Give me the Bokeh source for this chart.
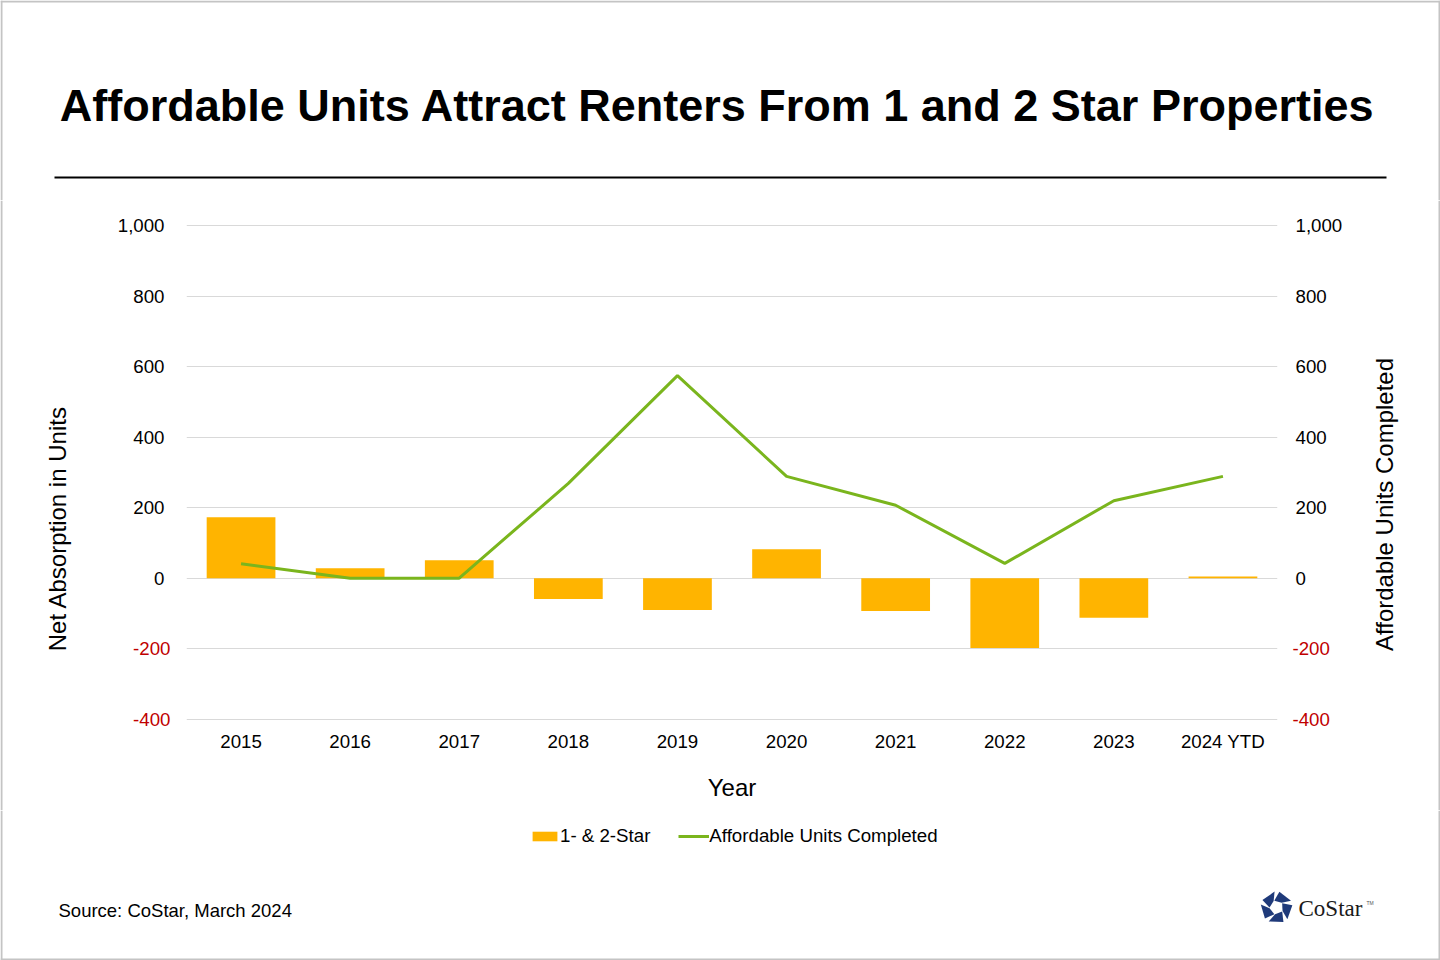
import math
from bokeh.plotting import figure
from bokeh.layouts import column, row
from bokeh.models import (ColumnDataSource, FactorRange, Range1d, LinearAxis, Label,
                          BoxAnnotation, PolyAnnotation, Legend, LegendItem, FixedTicker)
from bokeh.embed import file_html
from bokeh.resources import INLINE

# data
years = ['2015', '2016', '2017', '2018', '2019', '2020', '2021', '2022', '2023', '2024 YTD']
star_1_2 = [173, 28, 51, -59, -90, 82, -93, -198, -112, 5]
affordable_done = [41, 0, 0, 269, 575, 289, 207, 42, 220, 289]
y_ticks = [-400, -200, 0, 200, 400, 600, 800, 1000]

W = 1440
H_HEAD, H_CHART, H_FOOT = 200, 610, 150
W_LEFT, W_RIGHT = 100, W - 1345
W_CHART = W - W_LEFT - W_RIGHT
FONT = "Liberation Sans"
TICK = "18.7px"
TITLE_AX = "24px"
BAR = "#FFB400"
LINE = "#7AB51D"
RED = "#C00000"
EDGE = "#c4c4c4"


def box(f, left, right, top, bottom, color):
    f.add_layout(BoxAnnotation(left=left, right=right, top=top, bottom=bottom,
                               left_units="screen", right_units="screen",
                               top_units="screen", bottom_units="screen",
                               fill_color=color, fill_alpha=1, line_color=None))


def blank_fig(w, h, edges=""):
    f = figure(width=w, height=h, x_range=Range1d(0, w), y_range=Range1d(0, h),
               toolbar_location=None, output_backend="svg",
               x_axis_location=None, y_axis_location=None, frame_align=False,
               min_border=0, min_border_left=0, min_border_right=0,
               min_border_top=0, min_border_bottom=0)
    f.grid.visible = False
    f.outline_line_color = None
    # thin grey frame round the whole picture
    if "l" in edges:
        box(f, 0, 2, h, 0, EDGE)
    if "r" in edges:
        box(f, w - 2, w, h, 0, EDGE)
    if "t" in edges:
        box(f, 0, w, h, h - 2, EDGE)
    if "b" in edges:
        box(f, 0, w, 2, 0, EDGE)
    return f


def txt(f, x, y, s, size, bold=False, align="center", angle=0, font=FONT, color="black"):
    f.add_layout(Label(x=x, y=y, x_units="screen", y_units="screen", text=s,
                       text_font=font, text_font_size=size, text_color=color,
                       text_font_style="bold" if bold else "normal",
                       text_align=align, text_baseline="middle", angle=angle))


# ---- header: title and rule
head = blank_fig(W, H_HEAD, "lrt")
txt(head, 717, 95, "Affordable Units Attract Renters From 1 and 2 Star Properties", "45px", bold=True)
box(head, 54, 1386, 24, 22, "black")

# ---- side titles
left_fig = blank_fig(W_LEFT, H_CHART, "l")
txt(left_fig, 57, 282, "Net Absorption in Units", TITLE_AX, angle=math.pi / 2)
right_fig = blank_fig(W_RIGHT, H_CHART, "r")
txt(right_fig, 39, 306, "Affordable Units Completed", TITLE_AX, angle=math.pi / 2)

# ---- chart
source = ColumnDataSource(data=dict(year=years, net=star_1_2, done=affordable_done))

p = figure(width=W_CHART, height=H_CHART, x_range=FactorRange(*years), y_range=Range1d(-404, 1004),
           toolbar_location=None, output_backend="svg", y_axis_location=None, frame_align=False,
           min_border_left=186 - W_LEFT, min_border_right=1345 - 1277,
           min_border_top=24, min_border_bottom=90)
p.outline_line_color = None
p.x_range.range_padding = 0
p.x_range.factor_padding = 0
p.extra_y_ranges['done'] = Range1d(-404, 1004)

p.xaxis.axis_line_color = None
p.xaxis.major_tick_line_color = None
p.xaxis.major_tick_out = 0
p.xaxis.major_label_text_font = FONT
p.xaxis.major_label_text_font_size = TICK
p.xaxis.major_label_text_color = "black"
p.xaxis.major_label_standoff = 10
p.xaxis.axis_label = "Year"
p.xaxis.axis_label_text_font = FONT
p.xaxis.axis_label_text_font_size = TITLE_AX
p.xaxis.axis_label_text_font_style = "normal"
p.xaxis.axis_label_text_color = "black"
p.xaxis.axis_label_standoff = 19

p.xgrid.grid_line_color = None
p.ygrid.ticker = FixedTicker(ticks=y_ticks)
p.ygrid.grid_line_color = "#d9d9d9"


def make_axis(range_name, color, overrides, standoff):
    ax = LinearAxis(y_range_name=range_name, ticker=FixedTicker(ticks=y_ticks))
    ax.axis_line_color = None
    ax.major_tick_line_color = None
    ax.minor_tick_line_color = None
    ax.major_tick_out = 0
    ax.minor_tick_out = 0
    ax.major_label_text_font = FONT
    ax.major_label_text_font_size = TICK
    ax.major_label_text_color = color
    ax.major_label_overrides = overrides
    ax.major_label_standoff = standoff
    return ax


neg_only = {t: ("" if t >= 0 else f"{t:,}") for t in y_ticks}
pos_only = {t: ("" if t < 0 else f"{t:,}") for t in y_ticks}

# inner axes carry the red negative labels, outer axes the black ones
p.add_layout(make_axis("default", RED, neg_only, 16), "left")
p.add_layout(make_axis("default", "black", pos_only, -34), "left")
p.add_layout(make_axis("done", RED, neg_only, 15), "right")
p.add_layout(make_axis("done", "black", pos_only, -37), "right")

p.vbar(x='year', top='net', bottom=0, width=0.63, source=source,
       fill_color=BAR, line_color=None)
p.line(x='year', y='done', source=source, y_range_name='done',
       line_color=LINE, line_width=3)

# ---- footer: legend, source and logo
foot = blank_fig(W, H_FOOT, "lrb")
# hidden key renderers styled like the chart's bars and line
key_src = ColumnDataSource(data=dict(x=[0], y=[0]))
key_bar = foot.vbar(x='x', top='y', width=1, source=key_src, fill_color=BAR, line_color=None, visible=False)
key_line = foot.line(x='x', y='y', source=key_src, line_color=LINE, line_width=3, visible=False)
legend = Legend(items=[LegendItem(label="1- & 2-Star", renderers=[key_bar]),
                       LegendItem(label="Affordable Units Completed", renderers=[key_line])],
                location=(529, 113), orientation="horizontal")
legend.background_fill_alpha = 0
legend.border_line_alpha = 0
legend.inactive_fill_alpha = 0
legend.label_text_font = FONT
legend.label_text_font_size = TICK
legend.label_text_color = "black"
legend.glyph_width = 31
legend.glyph_height = 12
legend.label_standoff = 0
legend.spacing = 28
legend.padding = 0
legend.margin = 0
foot.add_layout(legend)

txt(foot, 58, 50, "Source: CoStar, March 2024", "18.5px", align="left")
txt(foot, 1298, 52, "CoStar", "23px", align="left", font="Liberation Serif", color="#1a1a1a")
txt(foot, 1366, 58, "TM", "5px", align="left", color="#555555")
cx, cy, r_out, r_in = 1276, 53, 16, 7
for k in range(5):
    a0 = math.pi / 2 + k * 2 * math.pi / 5 + 0.12
    a1 = a0 + 2 * math.pi / 5 - 0.30
    xs = [cx + r_out * math.cos(a0), cx + r_out * math.cos(a1),
          cx + r_in * math.cos(a1 + 0.5), cx + r_in * math.cos(a0 + 0.3)]
    ys = [cy + r_out * math.sin(a0), cy + r_out * math.sin(a1),
          cy + r_in * math.sin(a1 + 0.5), cy + r_in * math.sin(a0 + 0.3)]
    foot.add_layout(PolyAnnotation(xs=xs, ys=ys, xs_units="screen", ys_units="screen",
                                   fill_color="#1F3A7A", fill_alpha=1, line_color=None))

layout = column(head, row(left_fig, p, right_fig, spacing=0), foot, spacing=0)
open("out.html", "w").write(file_html(layout, INLINE))
